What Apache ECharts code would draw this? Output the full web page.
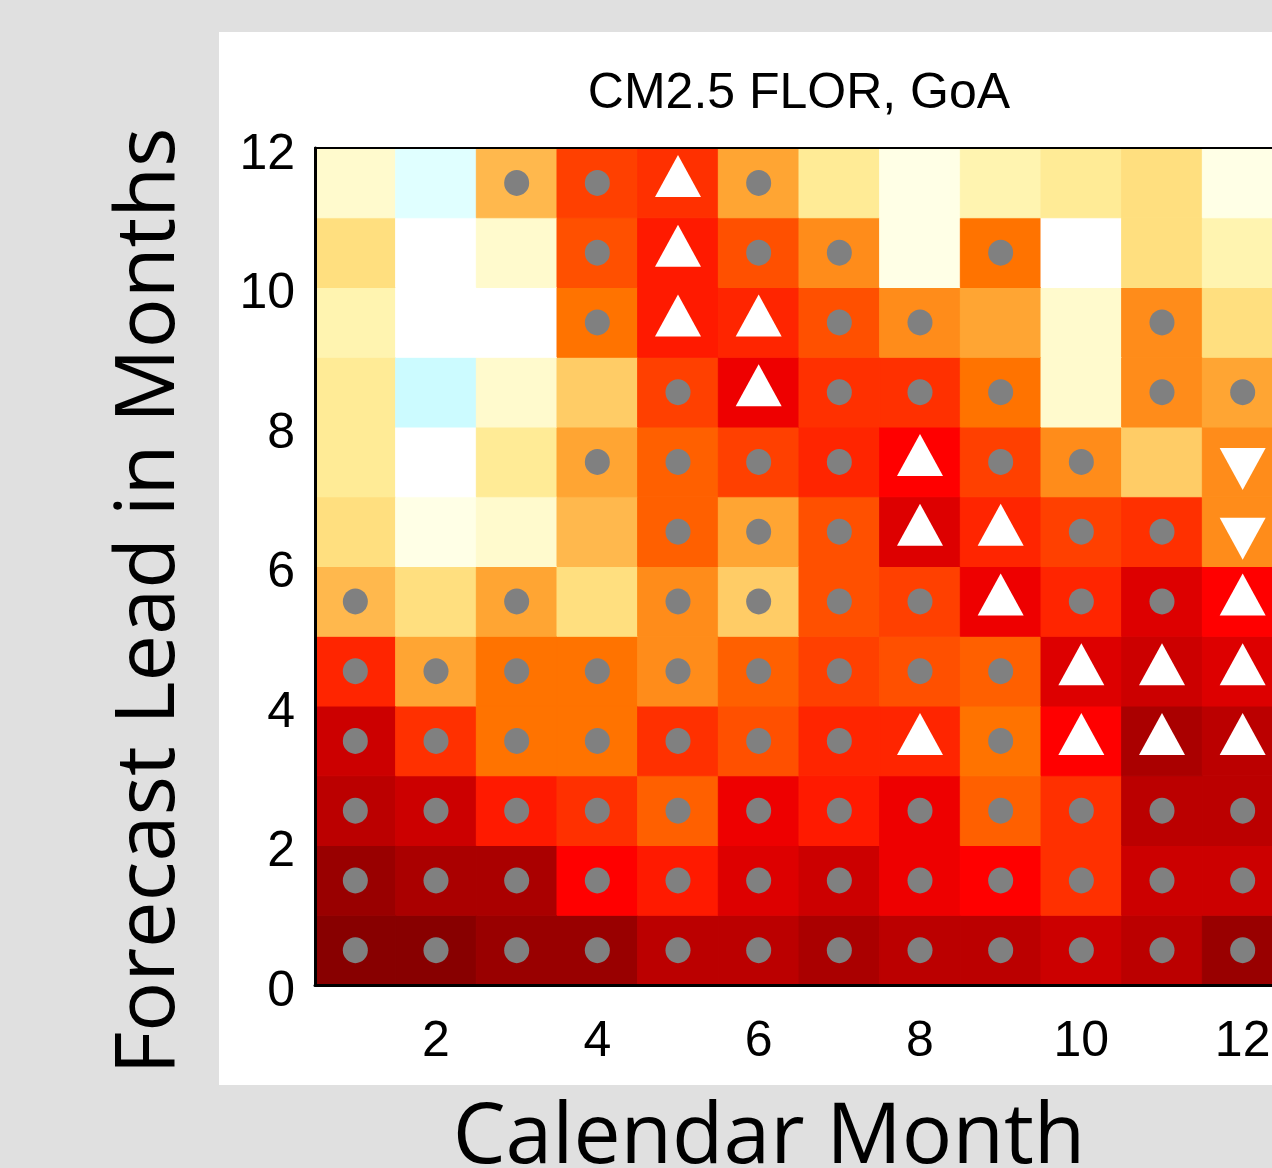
<!DOCTYPE html>
<html>
<head>
<meta charset="utf-8">
<script src="https://cdn.jsdelivr.net/npm/echarts@6/dist/echarts.min.js"></script>
<style>
html, body { margin: 0; padding: 0; background: #e0e0e0; }
#main { width: 1272px; height: 1168px; }
</style>
</head>
<body>
<div id="main"></div>
<script>
var months = [1, 2, 3, 4, 5, 6, 7, 8, 9, 10, 11, 12];
var leads = [0, 1, 2, 3, 4, 5, 6, 7, 8, 9, 10, 11];

// skill for each lead (row, lead 0 first) and calendar month (column)
var skill = [
    [0.92, 0.92, 0.88, 0.88, 0.80, 0.80, 0.84, 0.80, 0.80, 0.76, 0.80, 0.88],
    [0.88, 0.84, 0.84, 0.64, 0.60, 0.72, 0.76, 0.68, 0.64, 0.56, 0.76, 0.76],
    [0.80, 0.76, 0.60, 0.56, 0.44, 0.68, 0.60, 0.68, 0.44, 0.56, 0.80, 0.80],
    [0.76, 0.56, 0.40, 0.40, 0.56, 0.48, 0.58, 0.58, 0.40, 0.64, 0.84, 0.80],
    [0.58, 0.32, 0.40, 0.40, 0.36, 0.44, 0.52, 0.48, 0.44, 0.72, 0.76, 0.72],
    [0.28, 0.20, 0.32, 0.20, 0.36, 0.24, 0.48, 0.52, 0.68, 0.58, 0.72, 0.64],
    [0.20, 0.04, 0.08, 0.28, 0.44, 0.32, 0.48, 0.72, 0.58, 0.52, 0.56, 0.36],
    [0.16, 0.00, 0.16, 0.32, 0.44, 0.52, 0.58, 0.64, 0.52, 0.36, 0.24, 0.36],
    [0.16, -0.08, 0.08, 0.24, 0.52, 0.68, 0.56, 0.56, 0.40, 0.08, 0.36, 0.32],
    [0.12, 0.00, 0.00, 0.40, 0.60, 0.58, 0.48, 0.36, 0.32, 0.08, 0.36, 0.20],
    [0.20, 0.00, 0.08, 0.48, 0.60, 0.48, 0.36, 0.04, 0.40, 0.00, 0.20, 0.12],
    [0.08, -0.04, 0.28, 0.52, 0.56, 0.32, 0.16, 0.04, 0.12, 0.16, 0.20, 0.04]
];

// 0 = nothing, 1 = grey dot, 2 = up triangle, 3 = down triangle
var marks = [
    [1, 1, 1, 1, 1, 1, 1, 1, 1, 1, 1, 1],
    [1, 1, 1, 1, 1, 1, 1, 1, 1, 1, 1, 1],
    [1, 1, 1, 1, 1, 1, 1, 1, 1, 1, 1, 1],
    [1, 1, 1, 1, 1, 1, 1, 2, 1, 2, 2, 2],
    [1, 1, 1, 1, 1, 1, 1, 1, 1, 2, 2, 2],
    [1, 0, 1, 0, 1, 1, 1, 1, 2, 1, 1, 2],
    [0, 0, 0, 0, 1, 1, 1, 2, 2, 1, 1, 3],
    [0, 0, 0, 1, 1, 1, 1, 2, 1, 1, 0, 3],
    [0, 0, 0, 0, 1, 2, 1, 1, 1, 0, 1, 1],
    [0, 0, 0, 1, 2, 2, 1, 1, 0, 0, 1, 0],
    [0, 0, 0, 1, 2, 1, 1, 0, 1, 0, 0, 0],
    [0, 0, 1, 1, 2, 1, 0, 0, 0, 0, 0, 0]
];

var xTickLabels = [2, 4, 6, 8, 10, 12];

// colour scale, from -0.08 to 0.92 in steps of 0.04
var skillMin = -0.08, skillMax = 0.92;
var colorLevels = [
    '#ccfbff', '#e0ffff', '#ffffff', '#ffffe6', '#fffacd', '#fff4b0',
    '#ffeb96', '#ffdf7f', '#ffcc66', '#ffb84d', '#ffa533', '#ff8c1a',
    '#ff7300', '#ff6000', '#ff5000', '#ff4000', '#ff3000', '#ff1a00',
    '#ff0000', '#ee0000', '#dd0000', '#cc0000', '#bb0000', '#aa0000',
    '#990000', '#880000'
];

var cells = [], dots = [], ups = [], downs = [];
for (var i = 0; i < leads.length; i++) {
    for (var j = 0; j < months.length; j++) {
        cells.push([months[j], leads[i], skill[i][j]]);
        var p = [months[j], leads[i] + 0.5];
        if (marks[i][j] === 1) dots.push(p);
        else if (marks[i][j] === 2) ups.push(p);
        else if (marks[i][j] === 3) downs.push(p);
    }
}

var myChart = echarts.init(document.getElementById('main'));

var option = {
    backgroundColor: '#e0e0e0',
    animation: false,
    grid: {
        left: 315,
        top: 148,
        width: 968,
        height: 837,
        containLabel: false,
        outerBoundsMode: 'none'
    },
    xAxis: [
        {
            type: 'value',
            min: 0.5,
            max: 12.5,
            interval: 0.5,
            z: 10,
            axisLine: { show: true, onZero: false, lineStyle: { color: '#000', width: 3 } },
            axisTick: { show: false },
            splitLine: { show: false },
            axisLabel: {
                margin: 32,
                fontSize: 50,
                fontFamily: 'Liberation Sans',
                color: '#000',
                formatter: function (v) {
                    return xTickLabels.indexOf(v) >= 0 ? String(v) : '';
                }
            }
        },
        {
            type: 'value',
            position: 'top',
            min: 0.5,
            max: 12.5,
            z: 10,
            axisLine: { show: true, onZero: false, lineStyle: { color: '#000', width: 2 } },
            axisTick: { show: false },
            splitLine: { show: false },
            axisLabel: { show: false }
        }
    ],
    yAxis: {
        type: 'value',
        min: 0,
        max: 12,
        interval: 2,
        z: 10,
        axisLine: { show: true, onZero: false, lineStyle: { color: '#000', width: 3 } },
        axisTick: { show: false },
        splitLine: { show: false },
        axisLabel: {
            margin: 20,
            formatter: function (v) {
                return '{t|' + v + '}';
            },
            rich: {
                t: {
                    fontSize: 50,
                    fontFamily: 'Liberation Sans',
                    color: '#000',
                    padding: [14, 0, 0, 0]
                }
            }
        }
    },
    visualMap: {
        show: false,
        type: 'continuous',
        min: skillMin,
        max: skillMax,
        dimension: 2,
        seriesIndex: 0,
        inRange: { color: colorLevels }
    },
    graphic: [
        {
            type: 'rect',
            z: -10,
            shape: { x: 219, y: 32, width: 1100, height: 1053 },
            style: { fill: '#ffffff' }
        },
        {
            type: 'text',
            x: 799,
            y: 94,
            style: {
                text: 'CM2.5 FLOR, GoA',
                font: '50px "Liberation Sans"',
                fill: '#000',
                align: 'center',
                verticalAlign: 'middle'
            }
        },
        {
            type: 'text',
            x: 150,
            y: 601,
            rotation: Math.PI / 2,
            style: {
                text: 'Forecast Lead in Months',
                font: '83px "Open Sans"',
                fill: '#000',
                align: 'center',
                verticalAlign: 'middle'
            }
        },
        {
            type: 'text',
            x: 769,
            y: 1139,
            style: {
                text: 'Calendar Month',
                font: '84px "Open Sans"',
                fill: '#000',
                align: 'center',
                verticalAlign: 'middle'
            }
        }
    ],
    series: [
        {
            type: 'custom',
            data: cells,
            encode: { x: 0, y: 1 },
            renderItem: function (params, api) {
                var x = api.value(0), y = api.value(1);
                var p0 = api.coord([x - 0.5, y + 1]);
                var p1 = api.coord([x + 0.5, y]);
                var color = api.visual('color');
                return {
                    type: 'rect',
                    shape: { x: p0[0], y: p0[1], width: p1[0] - p0[0], height: p1[1] - p0[1] },
                    style: { fill: color, stroke: color, lineWidth: 1 }
                };
            }
        },
        {
            type: 'scatter',
            data: dots,
            symbol: 'circle',
            symbolSize: [25, 26],
            itemStyle: { color: '#808080', opacity: 1 },
            z: 4
        },
        {
            type: 'scatter',
            data: ups,
            symbol: 'triangle',
            symbolSize: [46, 42],
            symbolOffset: [0, -7],
            itemStyle: { color: '#ffffff', opacity: 1 },
            z: 4
        },
        {
            type: 'scatter',
            data: downs,
            symbol: 'triangle',
            symbolRotate: 180,
            symbolSize: [46, 42],
            symbolOffset: [0, 7],
            itemStyle: { color: '#ffffff', opacity: 1 },
            z: 4
        }
    ]
};

myChart.setOption(option);
</script>
</body>
</html>
